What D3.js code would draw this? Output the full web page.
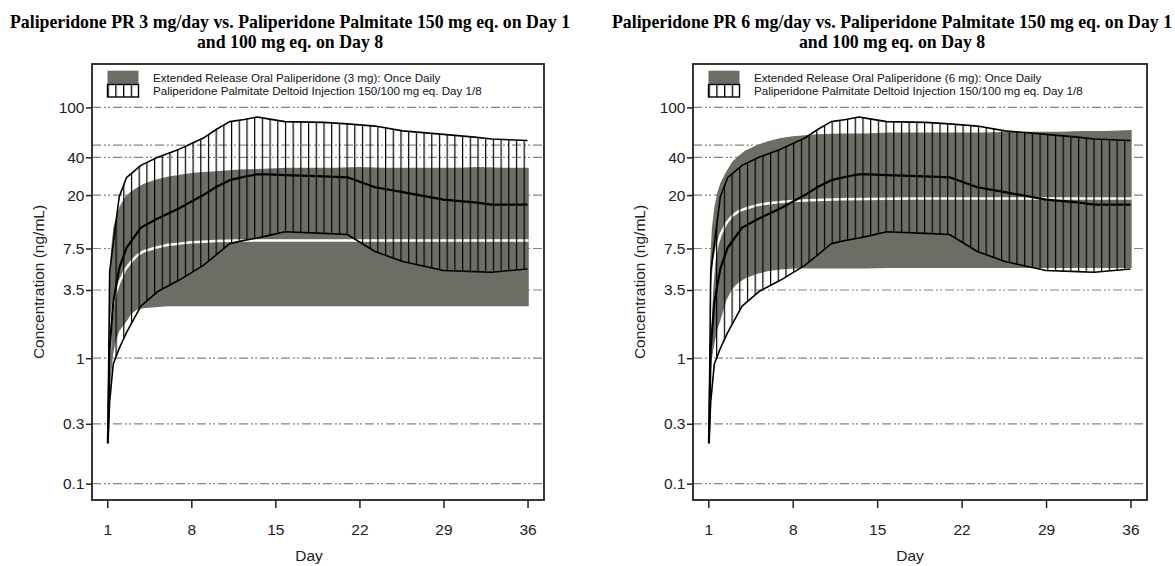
<!DOCTYPE html>
<html>
<head>
<meta charset="utf-8">
<script src="https://cdn.jsdelivr.net/npm/d3@7"></script>
<style>
  body { margin: 0; background: #fff; }
  svg { display: block; }
</style>
</head>
<body>
<script>
let width = 1175
let height = 566

// ticks y textos
let dayTicks = [1, 8, 15, 22, 29, 36]
let concTicks = [0.1, 0.3, 1, 3.5, 7.5, 20, 40, 100]
let gridValues = [0.1, 0.3, 1, 3.5, 7.5, 20, 40, 50, 100]

let titles = [
    ["Paliperidone PR 3 mg/day vs. Paliperidone Palmitate 150 mg eq. on Day 1", "and 100 mg eq. on Day 8"],
    ["Paliperidone PR 6 mg/day vs. Paliperidone Palmitate 150 mg eq. on Day 1", "and 100 mg eq. on Day 8"]
]
let legendOral = ["Extended Release Oral Paliperidone (3 mg): Once Daily", "Extended Release Oral Paliperidone (6 mg): Once Daily"]
let legendPalm = "Paliperidone Palmitate Deltoid Injection 150/100 mg eq. Day 1/8"

// oral ER paliperidone: banda (lo/hi) y mediana
let oralDays = [1.05, 1.15, 1.3, 1.5, 1.75, 2, 2.5, 3, 3.5, 4, 5, 6, 7, 8, 9, 10, 12, 14, 16, 18, 20, 22, 24, 26, 28, 30, 32, 34, 36.1]
let oral3Hi = [0.12, 3, 7, 11, 13.5, 16, 19.5, 21.5, 23, 24.5, 26.5, 28, 29, 30, 30.5, 31, 32, 32.5, 33, 33, 33, 33.5, 33, 33, 33, 33, 33.5, 33, 33]
let oral3Med = [0.12, 0.8, 1.8, 2.8, 3.4, 4.0, 5.1, 5.9, 6.6, 7.1, 7.6, 8.0, 8.2, 8.4, 8.5, 8.6, 8.7, 8.7, 8.7, 8.7, 8.7, 8.7, 8.7, 8.7, 8.7, 8.7, 8.7, 8.7, 8.7]
let oral3Lo = [0.12, 0.35, 0.7, 1.1, 1.4, 1.65, 1.9, 2.25, 2.45, 2.5, 2.55, 2.6, 2.6, 2.6, 2.6, 2.6, 2.6, 2.6, 2.6, 2.6, 2.6, 2.6, 2.6, 2.6, 2.6, 2.6, 2.6, 2.6, 2.6]
let oral6Hi = [0.24, 6, 11, 16, 21, 25, 31, 37, 41, 45, 50, 54, 57, 59, 60, 61, 62, 62, 63, 63, 63, 63, 63, 64, 64, 64, 65, 65, 66]
let oral6Med = [0.24, 1.6, 3.5, 6, 8, 9.6, 12, 13.7, 14.8, 15.5, 16.6, 17.2, 17.6, 17.9, 18.1, 18.3, 18.5, 18.6, 18.7, 18.8, 18.8, 18.8, 18.8, 18.8, 18.8, 18.8, 18.8, 18.8, 18.8]
let oral6Lo = [0.24, 0.7, 1.0, 1.3, 1.7, 2.0, 2.9, 3.6, 4.0, 4.3, 4.7, 4.95, 5.1, 5.2, 5.2, 5.2, 5.2, 5.2, 5.25, 5.25, 5.25, 5.25, 5.25, 5.25, 5.25, 5.25, 5.25, 5.25, 5.25]

// paliperidone palmitate: igual en los dos paneles
let palmDays = [1.05, 1.2, 1.5, 2, 2.6, 3.8, 5.2, 7, 9, 10.1, 11.2, 12.4, 13.5, 14.4, 15.8, 19, 21, 23.3, 25.6, 29, 31.6, 33, 36]
let palmHi = [0.21, 4.9, 8.2, 19.5, 27.5, 34.5, 40, 46.5, 57, 67, 77, 80, 84, 81, 77, 76, 74, 71, 65, 61, 58, 56, 54.5]
let palmMed = [0.21, 1.2, 2.8, 5.2, 7.6, 11, 13, 15.7, 20, 23.3, 26.3, 28, 29.3, 29.2, 28.8, 28.2, 27.7, 23.1, 21.1, 18.4, 17.5, 16.8, 16.8]
let palmLo = [0.21, 0.45, 0.9, 1.2, 1.6, 2.6, 3.4, 4.2, 5.5, 6.7, 8.2, 8.7, 9.1, 9.5, 10.2, 9.9, 9.7, 7.1, 5.9, 5.0, 4.9, 4.85, 5.15]

let oralData = [
    oralDays.map((d, i) => ({ day: d, lo: oral3Lo[i], med: oral3Med[i], hi: oral3Hi[i] })),
    oralDays.map((d, i) => ({ day: d, lo: oral6Lo[i], med: oral6Med[i], hi: oral6Hi[i] }))
]
let palmData = palmDays.map((d, i) => ({ day: d, lo: palmLo[i], med: palmMed[i], hi: palmHi[i] }))

let panels = [
    { left: 92, right: 544 },
    { left: 693, right: 1147 }
]
let plotTop = 64
let plotBottom = 500

const grey = "#6e6d65"
const sans = "'Liberation Sans', Arial, sans-serif"

const svg = d3.select("body").append("svg")
    .attr("width", width)
    .attr("height", height)
    .attr("viewBox", [0, 0, width, height])

// patrones de rayado vertical
const defs = svg.append("defs")
defs.append("pattern")
    .attr("id", "hatch")
    .attr("patternUnits", "userSpaceOnUse")
    .attr("width", 7.7)
    .attr("height", 10)
    .append("line")
    .attr("x1", 0.6).attr("x2", 0.6)
    .attr("y1", 0).attr("y2", 10)
    .attr("stroke", "#000")
    .attr("stroke-width", 1.2)
defs.append("pattern")
    .attr("id", "hatchKey")
    .attr("patternUnits", "objectBoundingBox")
    .attr("width", 0.25)
    .attr("height", 1)
    .append("line")
    .attr("x1", 0.6).attr("x2", 0.6)
    .attr("y1", 0).attr("y2", 20)
    .attr("stroke", "#000")
    .attr("stroke-width", 1.4)

panels.forEach((p, k) => {
    const x = d3.scaleLinear()
        .domain([-0.27, 37.37])
        .range([p.left, p.right])

    const y = d3.scaleLog()
        .domain([0.074, 222])
        .range([plotBottom, plotTop])

    const g = svg.append("g")

    g.append("clipPath")
        .attr("id", "clip" + k)
        .append("rect")
        .attr("x", p.left).attr("y", plotTop)
        .attr("width", p.right - p.left)
        .attr("height", plotBottom - plotTop)

    // titulo
    const cx = (p.left + p.right) / 2 - 28
    g.append("text")
        .attr("x", cx)
        .attr("text-anchor", "middle")
        .style("font-family", "'Liberation Serif', 'Times New Roman', serif")
        .style("font-weight", "bold")
        .style("font-size", "17.8px")
        .selectAll("tspan")
        .data(titles[k])
        .join("tspan")
        .attr("x", cx)
        .attr("y", (d, i) => 28 + i * 20)
        .text(d => d)

    // lineas de grilla
    g.append("g")
        .selectAll("line")
        .data(gridValues)
        .join("line")
        .attr("x1", p.left).attr("x2", p.right)
        .attr("y1", d => y(d)).attr("y2", d => y(d))
        .attr("stroke", "#858579")
        .attr("stroke-width", 1.2)
        .attr("stroke-dasharray", "9,3,2,2,2,3")

    const plot = g.append("g").attr("clip-path", `url(#clip${k})`)

    const area = d3.area()
        .x(d => x(d.day))
        .y0(d => y(d.lo))
        .y1(d => y(d.hi))

    // banda oral
    plot.append("path")
        .datum(oralData[k])
        .attr("fill", grey)
        .attr("d", area)

    plot.append("path")
        .datum(oralData[k])
        .attr("fill", "none")
        .attr("stroke", "#fff")
        .attr("stroke-width", 2.5)
        .attr("d", d3.line().x(d => x(d.day)).y(d => y(d.med)))

    // banda palmitato rayada
    plot.append("path")
        .datum(palmData)
        .attr("fill", "url(#hatch)")
        .attr("d", area)

    plot.append("path")
        .datum(palmData)
        .attr("fill", "none")
        .attr("stroke", "#000")
        .attr("stroke-width", 1.6)
        .attr("stroke-linejoin", "round")
        .attr("d", area.lineY1())

    plot.append("path")
        .datum(palmData)
        .attr("fill", "none")
        .attr("stroke", "#000")
        .attr("stroke-width", 1.6)
        .attr("stroke-linejoin", "round")
        .attr("d", area.lineY0())

    plot.append("path")
        .datum(palmData)
        .attr("fill", "none")
        .attr("stroke", "#000")
        .attr("stroke-width", 2.2)
        .attr("stroke-linejoin", "round")
        .attr("d", d3.line().x(d => x(d.day)).y(d => y(d.med)))

    // marco
    g.append("rect")
        .attr("x", p.left).attr("y", plotTop)
        .attr("width", p.right - p.left)
        .attr("height", plotBottom - plotTop)
        .attr("fill", "none")
        .attr("stroke", "#222")
        .attr("stroke-width", 1.8)

    // ejes
    const gx = g.append("g")
        .attr("transform", `translate(0,${plotBottom})`)
        .call(d3.axisBottom(x).tickValues(dayTicks).tickSize(8).tickPadding(16))
    gx.select(".domain").remove()

    const gy = g.append("g")
        .attr("transform", `translate(${p.left},0)`)
        .call(d3.axisLeft(y).tickValues(concTicks).tickFormat(d => d).tickSize(6).tickPadding(1.5))
    gy.select(".domain").remove()

    g.selectAll(".tick line").attr("stroke", "#222").attr("stroke-width", 1.5)
    g.selectAll(".tick text")
        .attr("fill", "#222")
        .style("font-family", sans)
        .style("font-size", "15.5px")

    g.append("text")
        .attr("x", p.left + 217)
        .attr("y", 561)
        .attr("text-anchor", "middle")
        .style("font-family", sans)
        .style("font-size", "15.5px")
        .attr("fill", "#222")
        .text("Day")

    g.append("text")
        .attr("transform", `translate(${p.left - 48},${(plotTop + plotBottom) / 2}) rotate(-90)`)
        .attr("text-anchor", "middle")
        .style("font-family", sans)
        .style("font-size", "15.5px")
        .attr("fill", "#222")
        .text("Concentration (ng/mL)")

    // leyenda
    const lx = p.left + 15.5
    g.append("rect")
        .attr("x", lx).attr("y", 70.7)
        .attr("width", 31).attr("height", 13.6)
        .attr("fill", grey)
    g.append("rect")
        .attr("x", lx).attr("y", 84.5)
        .attr("width", 31).attr("height", 12.5)
        .attr("fill", "url(#hatchKey)")
        .attr("stroke", "#000")
        .attr("stroke-width", 1.4)

    g.append("text")
        .style("font-family", sans)
        .style("font-size", "11.6px")
        .attr("fill", "#111")
        .selectAll("tspan")
        .data([legendOral[k], legendPalm])
        .join("tspan")
        .attr("x", lx + 45.5)
        .attr("y", (d, i) => 82.2 + i * 13.2)
        .text(d => d)
})
</script>
</body>
</html>
